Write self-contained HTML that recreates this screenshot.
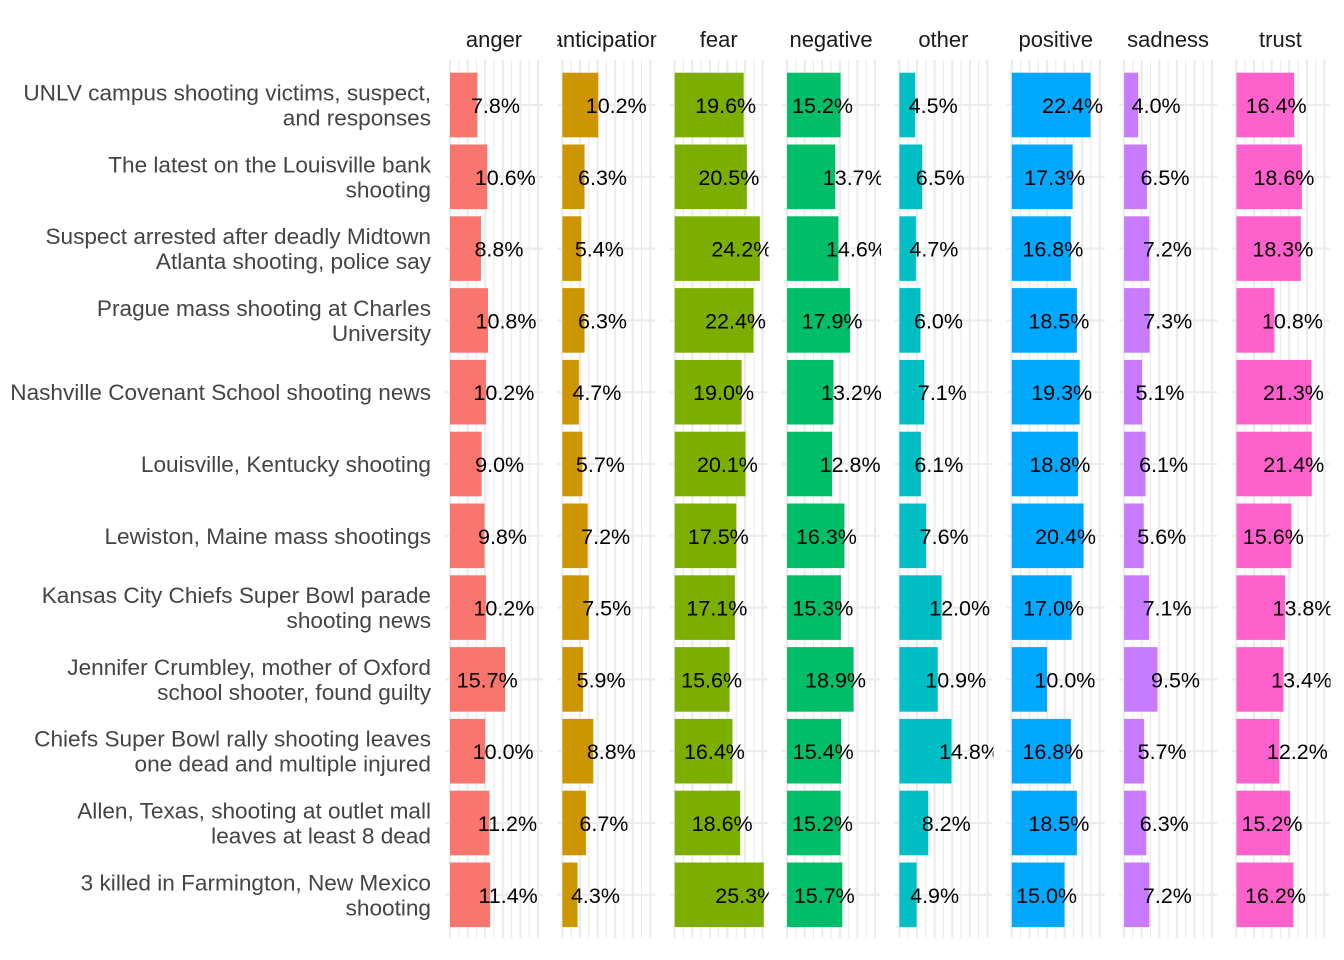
<!DOCTYPE html>
<html><head><meta charset="utf-8">
<style>
html,body{margin:0;padding:0;background:#fff;}
svg{display:block;font-family:"Liberation Sans",Arial,sans-serif;}
</style></head>
<body>
<svg id="chart" width="1344" height="960" viewBox="0 0 1344 960" xmlns="http://www.w3.org/2000/svg"></svg>
<script>
const categories = [
  ["UNLV campus shooting victims, suspect,","and responses"],
  ["The latest on the Louisville bank","shooting"],
  ["Suspect arrested after deadly Midtown","Atlanta shooting, police say"],
  ["Prague mass shooting at Charles","University"],
  ["Nashville Covenant School shooting news"],
  ["Louisville, Kentucky shooting"],
  ["Lewiston, Maine mass shootings"],
  ["Kansas City Chiefs Super Bowl parade","shooting news"],
  ["Jennifer Crumbley, mother of Oxford","school shooter, found guilty"],
  ["Chiefs Super Bowl rally shooting leaves","one dead and multiple injured"],
  ["Allen, Texas, shooting at outlet mall","leaves at least 8 dead"],
  ["3 killed in Farmington, New Mexico","shooting"]
];
const emotions = ["anger","anticipation","fear","negative","other","positive","sadness","trust"];
const colors = ["#F8766D","#CD9600","#7CAE00","#00BE67","#00BFC4","#00A9FF","#C77CFF","#FF61CC"];
const anger        = [7.8,10.6,8.8,10.8,10.2,9.0,9.8,10.2,15.7,10.0,11.2,11.4];
const anticipation = [10.2,6.3,5.4,6.3,4.7,5.7,7.2,7.5,5.9,8.8,6.7,4.3];
const fear         = [19.6,20.5,24.2,22.4,19.0,20.1,17.5,17.1,15.6,16.4,18.6,25.3];
const negative     = [15.2,13.7,14.6,17.9,13.2,12.8,16.3,15.3,18.9,15.4,15.2,15.7];
const other        = [4.5,6.5,4.7,6.0,7.1,6.1,7.6,12.0,10.9,14.8,8.2,4.9];
const positive     = [22.4,17.3,16.8,18.5,19.3,18.8,20.4,17.0,10.0,16.8,18.5,15.0];
const sadness      = [4.0,6.5,7.2,7.3,5.1,6.1,5.6,7.1,9.5,5.7,6.3,7.2];
const trust        = [16.4,18.6,18.3,10.8,21.3,21.4,15.6,13.8,13.4,12.2,15.2,16.2];
const series = [anger,anticipation,fear,negative,other,positive,sadness,trust];
const gridTicks = [0,2.5,5,7.5,10,12.5,15,17.5,20,22.5,25];

const NS="http://www.w3.org/2000/svg";
const svg=document.getElementById('chart');
function mk(t,a,p){const e=document.createElementNS(NS,t);for(const k in a)e.setAttribute(k,a[k]);(p||svg).appendChild(e);return e;}
const K=3.52, panelTop=60, panelBot=938, rowY0=105, rowStep=71.8, barH=64.6;
const px0=i=>450+i*112.35;
const xs=(i,v)=>px0(i)+v*K;
const ys=r=>rowY0+r*rowStep;

const defs=mk('defs',{});
emotions.forEach((e,i)=>{
  const cp=mk('clipPath',{id:'clip'+i},defs);
  mk('rect',{x:px0(i)-5,y:0,width:99,height:960},cp);
});

categories.forEach((lines,r)=>{
  const t=mk('text',{x:431,'text-anchor':'end','font-size':22.6,fill:'#444'});
  
  
  const n=lines.length;
  lines.forEach((s,j)=>{
    const ts=mk('tspan',{x:431,y:ys(r)+8+(j-(n-1)/2)*25},t);ts.textContent=s;
  });
});

emotions.forEach((emo,i)=>{
  const g=mk('g',{'clip-path':'url(#clip'+i+')'});
  
  
  gridTicks.forEach((v,k)=>{
    mk('line',{x1:xs(i,v),x2:xs(i,v),y1:panelTop,y2:panelBot,stroke:'#ebebeb','stroke-width':k%2?1.1:2.1},g);
  });
  categories.forEach((c,r)=>{
    mk('line',{x1:px0(i)-5,x2:px0(i)+93,y1:ys(r),y2:ys(r),stroke:'#ebebeb','stroke-width':2.1},g);
  });
  const strip=mk('text',{x:px0(i)+44,y:47,'text-anchor':'middle','font-size':22,fill:'#1a1a1a'},g);
  
  
  strip.textContent=emo;
  series[i].forEach((v,r)=>{
    const b=mk('rect',{x:xs(i,0),y:ys(r)-barH/2,width:xs(i,v)-xs(i,0),height:barH,fill:colors[i]},g);
    
    
  });
  series[i].forEach((v,r)=>{
    const end=v*K;
    const c=(end+18<=70.3)?end+18:end-18;
    const t=mk('text',{x:px0(i)+c,y:ys(r)+8,'text-anchor':'middle','font-size':21.5,fill:'#000'},g);
    
    
    t.textContent=v.toFixed(1)+'%';
  });
});
</script>
</body></html>
